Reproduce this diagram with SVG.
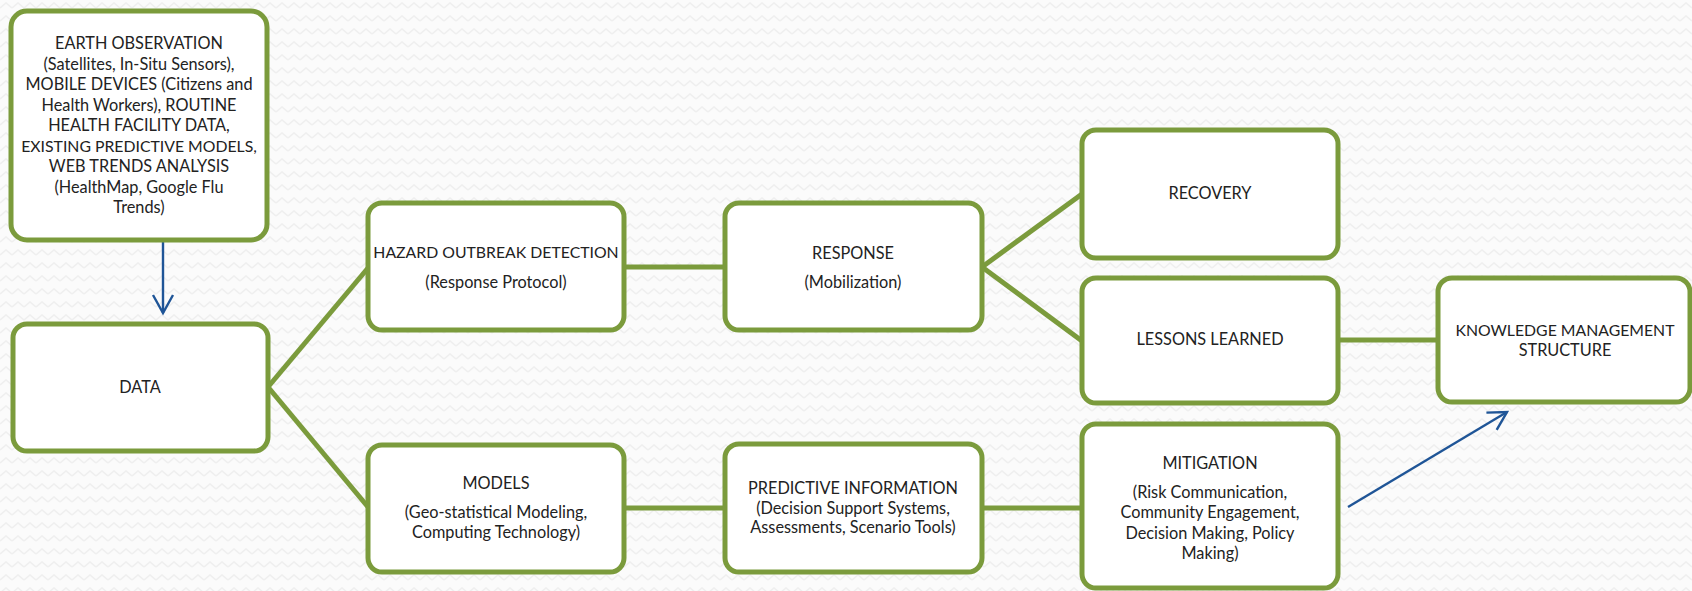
<svg xmlns="http://www.w3.org/2000/svg" width="1692" height="591" viewBox="0 0 1692 591">
  <defs>
    <!-- faint zigzag texture for the page background -->
    <pattern id="zigzag" width="12" height="13" patternUnits="userSpaceOnUse">
      <rect width="12" height="13" fill="#fbfbfb"/>
      <path d="M0,8 L6,3 L12,8" fill="none" stroke="#efefef" stroke-width="1.6"/>
    </pattern>
    <marker id="openArrow" markerUnits="userSpaceOnUse" viewBox="-22 -12 26 24" markerWidth="26" markerHeight="24" refX="0" refY="0" orient="auto" overflow="visible">
      <path d="M-18,-10 L0,0 L-18,10" fill="none" stroke="#1f5597" stroke-width="2.4" stroke-linejoin="miter"/>
    </marker>
    <style>
      .box { fill: #ffffff; stroke: #7b9b3c; stroke-width: 5; }
      .link { stroke: #7b9b3c; stroke-width: 5; fill: none; }
      .flow { stroke: #1f5597; stroke-width: 2.4; fill: none; marker-end: url(#openArrow); }
      text { font-family: "Lato", "Liberation Sans", sans-serif; font-size: 16.3px; fill: #222222; text-anchor: middle; }
      .tight { font-size: 15.8px; }
    </style>
  </defs>

  <rect width="1692" height="591" fill="url(#zigzag)"/>

  <!-- connectors -->
  <g id="connectors">
    <line class="link" x1="268" y1="387" x2="368" y2="268"/>
    <line class="link" x1="268" y1="387" x2="368" y2="507"/>
    <line class="link" x1="624" y1="267" x2="725" y2="267"/>
    <line class="link" x1="624" y1="508" x2="725" y2="508"/>
    <line class="link" x1="982" y1="267" x2="1082" y2="194"/>
    <line class="link" x1="982" y1="267" x2="1082" y2="341"/>
    <line class="link" x1="982" y1="508" x2="1082" y2="508"/>
    <line class="link" x1="1338" y1="340" x2="1438" y2="340"/>
    <line class="flow" x1="163" y1="242" x2="163" y2="313"/>
    <line class="flow" x1="1348" y1="507" x2="1507" y2="412"/>
  </g>

  <g id="earth-observation">
    <rect class="box" x="11" y="11" width="256" height="229" rx="16"/>
    <text x="139" y="49">EARTH OBSERVATION</text>
    <text x="139" y="69.5">(Satellites, In-Situ Sensors),</text>
    <text x="139" y="90">MOBILE DEVICES (Citizens and</text>
    <text x="139" y="110.5">Health Workers), ROUTINE</text>
    <text x="139" y="131">HEALTH FACILITY DATA,</text>
    <text x="139" y="151.5" class="tight">EXISTING PREDICTIVE MODELS,</text>
    <text x="139" y="172">WEB TRENDS ANALYSIS</text>
    <text x="139" y="192.5">(HealthMap, Google Flu</text>
    <text x="139" y="213">Trends)</text>
  </g>

  <g id="data">
    <rect class="box" x="13" y="324" width="255" height="127" rx="14"/>
    <text x="140" y="393">DATA</text>
  </g>

  <g id="hazard-outbreak-detection">
    <rect class="box" x="368" y="203" width="256" height="127" rx="14"/>
    <text x="496" y="258" class="tight">HAZARD OUTBREAK DETECTION</text>
    <text x="496" y="288">(Response Protocol)</text>
  </g>

  <g id="models">
    <rect class="box" x="368" y="445" width="256" height="127" rx="14"/>
    <text x="496" y="489">MODELS</text>
    <text x="496" y="518">(Geo-statistical Modeling,</text>
    <text x="496" y="538">Computing Technology)</text>
  </g>

  <g id="response">
    <rect class="box" x="725" y="203" width="257" height="127" rx="14"/>
    <text x="853" y="259">RESPONSE</text>
    <text x="853" y="288">(Mobilization)</text>
  </g>

  <g id="predictive-information">
    <rect class="box" x="725" y="444" width="257" height="128" rx="14"/>
    <text x="853" y="494">PREDICTIVE INFORMATION</text>
    <text x="853" y="514">(Decision Support Systems,</text>
    <text x="853" y="533">Assessments, Scenario Tools)</text>
  </g>

  <g id="recovery">
    <rect class="box" x="1082" y="130" width="256" height="128" rx="14"/>
    <text x="1210" y="199">RECOVERY</text>
  </g>

  <g id="lessons-learned">
    <rect class="box" x="1082" y="278" width="256" height="125" rx="14"/>
    <text x="1210" y="345">LESSONS LEARNED</text>
  </g>

  <g id="mitigation">
    <rect class="box" x="1082" y="424" width="256" height="164" rx="14"/>
    <text x="1210" y="469">MITIGATION</text>
    <text x="1210" y="498">(Risk Communication,</text>
    <text x="1210" y="518">Community Engagement,</text>
    <text x="1210" y="539">Decision Making, Policy</text>
    <text x="1210" y="559">Making)</text>
  </g>

  <g id="knowledge-management">
    <rect class="box" x="1438" y="278" width="252" height="124" rx="14"/>
    <text x="1565" y="336" class="tight">KNOWLEDGE MANAGEMENT</text>
    <text x="1565" y="356">STRUCTURE</text>
  </g>
</svg>
